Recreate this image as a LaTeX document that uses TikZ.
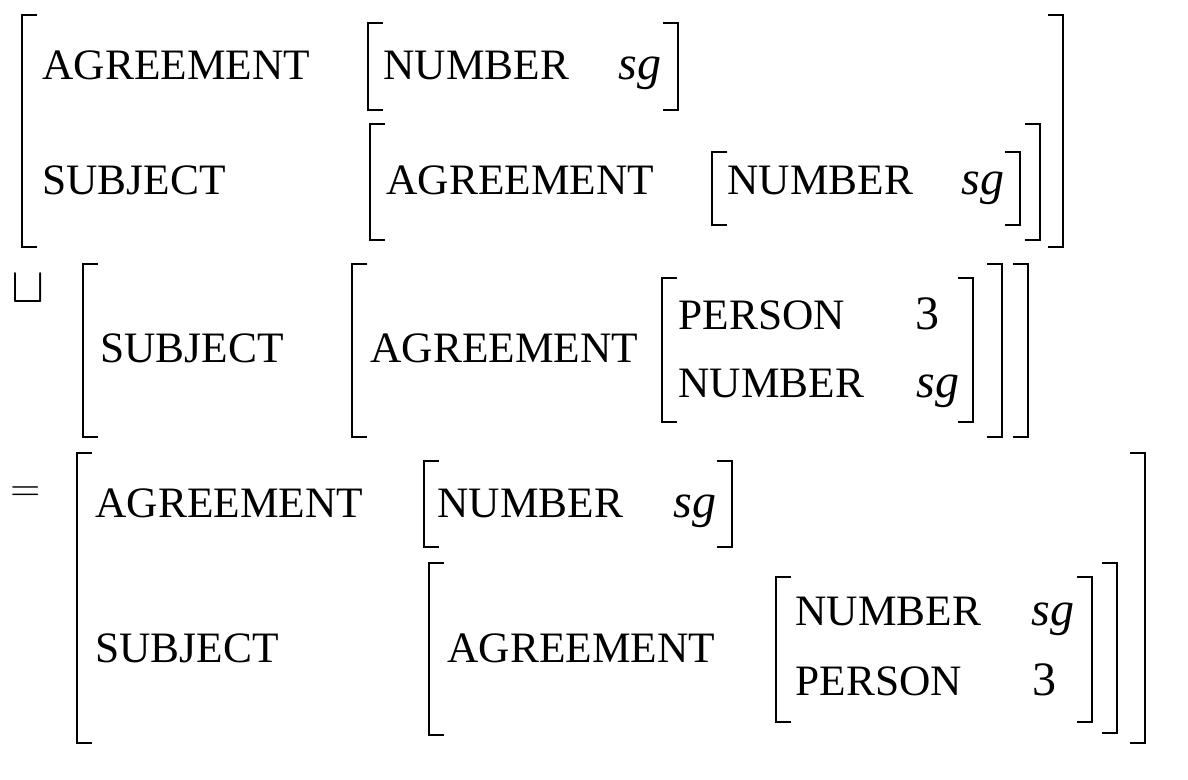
\documentclass[tikz,border=0pt]{standalone}
\usepackage{fontspec}
\setmainfont{Liberation Serif}
\usetikzlibrary{positioning}

% bracket helpers: x, top y, bottom y
\newcommand{\lbrk}[3]{\draw[brk] (#1,#2) ++(15,0) -- ++(-15,0) -- (#1,#3) -- ++(15,0);}
\newcommand{\rbrk}[3]{\draw[brk] (#1,#2) ++(-15,0) -- ++(15,0) -- (#1,#3) -- ++(-15,0);}

\begin{document}
\begin{tikzpicture}[
  x=0.5pt, y=-0.5pt,
  brk/.style={line width=1.45pt, line cap=butt, line join=miter},
  feat/.style={anchor=base west, inner sep=0pt, font=\fontsize{21.7}{26}\selectfont},
  val/.style={anchor=base west, inner sep=0pt, font=\fontsize{24}{28}\selectfont\itshape},
  num/.style={anchor=base west, inner sep=0pt, font=\fontsize{24}{28}\selectfont},
  op/.style={anchor=base west, inner sep=0pt, font=\fontsize{#1}{30}\selectfont},
]

\useasboundingbox (0,0) rectangle (1188,780);

% =============================================
% First structure
% =============================================
\lbrk{22}{15}{247}
\rbrk{1063}{15}{247}

\node[feat] (a-agr) at (42,80) {AGREEMENT};
\lbrk{368}{23}{110}
\node[feat] (a-num) at (383,80) {NUMBER};
\node[val] (a-sg) at (618,80) {sg};
\rbrk{678}{23}{110}

\node[feat] (a-subj) at (42,195) {SUBJECT};
\lbrk{370}{124}{240}
\node[feat] (a-agr2) at (386,195) {AGREEMENT};
\lbrk{712}{152}{225}
\node[feat] (a-num2) at (727,195) {NUMBER};
\node[val] (a-sg2) at (961,195) {sg};
\rbrk{1020}{152}{225}
\rbrk{1040}{124}{240}

% =============================================
% Second structure
% =============================================
\node[op=26] (join) at (11,303) {$\sqcup$};

\lbrk{83}{264}{437}
\rbrk{1028}{264}{437}

\node[feat] (b-subj) at (100,363) {SUBJECT};
\lbrk{352}{264}{437}
\node[feat] (b-agr) at (370,363) {AGREEMENT};
\lbrk{662}{278}{422}
\node[feat] (b-pers) at (678,330) {PERSON};
\node[num] (b-3) at (915,330) {3};
\node[feat] (b-num) at (678,398) {NUMBER};
\node[val] (b-sg) at (916,398) {sg};
\rbrk{973}{278}{422}
\rbrk{1002}{264}{437}

% =============================================
% Result
% =============================================
\node[op=20] (eq) at (10,501) {$=$};

\lbrk{77}{453}{743}
\rbrk{1145}{453}{743}

\node[feat] (c-agr) at (95,517) {AGREEMENT};
\lbrk{424}{461}{547}
\node[feat] (c-num) at (437,517) {NUMBER};
\node[val] (c-sg) at (673,517) {sg};
\rbrk{732}{461}{547}

\node[feat] (c-subj) at (95,662) {SUBJECT};
\lbrk{429}{563}{735}
\node[feat] (c-agr2) at (447,662) {AGREEMENT};
\lbrk{776}{577}{722}
\node[feat] (c-num2) at (795,625) {NUMBER};
\node[val] (c-sg2) at (1031,625) {sg};
\node[feat] (c-pers) at (795,695) {PERSON};
\node[num] (c-3) at (1032,695) {3};
\rbrk{1092}{577}{722}
\rbrk{1117}{563}{733}

\end{tikzpicture}
\end{document}
